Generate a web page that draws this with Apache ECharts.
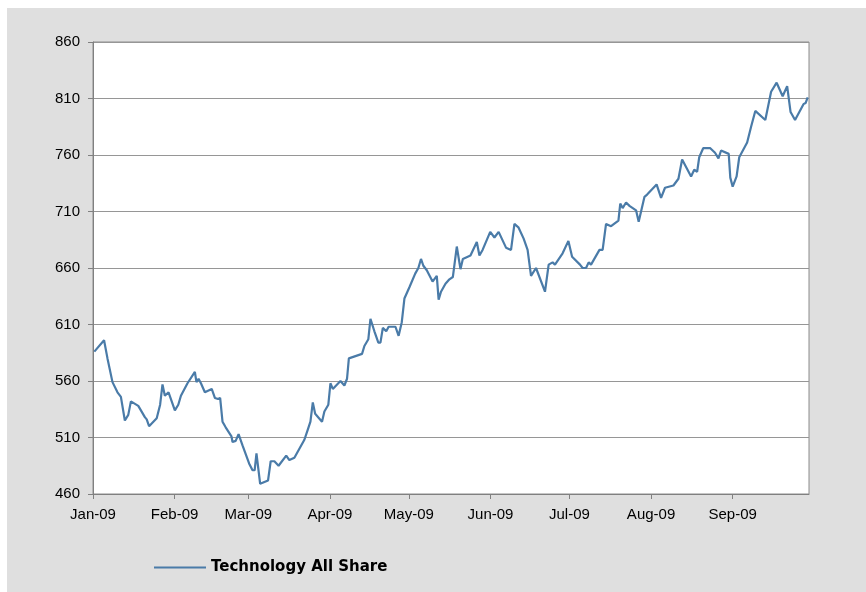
<!DOCTYPE html>
<html>
<head>
<meta charset="utf-8">
<script src="https://cdn.jsdelivr.net/npm/echarts@6/dist/echarts.min.js"></script>
<style>
  html, body { margin: 0; padding: 0; background: #fff; }
  #wrap { position: relative; width: 866px; height: 592px; }
  #panel { position: absolute; left: 7px; top: 8px; width: 859px; height: 584px; background: #dfdfdf; }
  #chart { position: absolute; left: 0; top: 0; width: 866px; height: 592px; }
</style>
</head>
<body>
<div id="wrap">
  <div id="panel"></div>
  <div id="chart"></div>
</div>
<script>
// day of year (0 = 1 Jan 2009) for each point
const tradingDays = [
  0.5, 4.2, 4.9, 5.5, 7.4, 9.3, 10.6, 11.2, 12.1, 13.4, 14.4, 17.2, 19.7, 20.4, 21.3, 24.2, 25.5, 26.4, 27.3, 28.7,
  31.1, 32.4, 33.4, 35.9, 38.7, 39.3, 40.1, 41, 42.5, 45.1, 46.3, 47.5, 48.3, 49.2, 50.4, 52.6, 53, 54.2, 55.3, 56.8,
  59.3, 60.6, 61.4, 62.1, 63.5, 66.5, 67.5, 68.9, 70.5, 73.4, 74.6, 76.5, 78.4, 80.3, 81.6, 82.6, 83.5, 84.4, 87, 87.9,
  89.4, 90.2, 91.1, 94, 95.5, 96.5, 97.2, 102.2, 103.1, 104.6, 105.4, 106.9, 108.4, 109.2, 110.1, 111.4, 112.3, 114.9, 116.1, 117.3,
  118.3, 120.2, 122.4, 123.6, 124.6, 125.5, 126.8, 129, 130.6, 131.3, 132.2, 133.9, 135.4, 136.7, 138.2, 139.6, 140.5, 143.4, 145.8, 146.8,
  148, 150.9, 152.5, 154.1, 156.9, 158.8, 160.1, 161.6, 163.6, 165.1, 166.4, 168.3, 171.7, 173.1, 174.6, 175.5, 178.4, 180.6, 182, 185,
  186, 187.3, 188.3, 189.2, 192.4, 193.6, 194.9, 196.8, 199.6, 200.3, 201.2, 202.5, 203.8, 206.3, 207.3, 209.5, 210.5, 214.1, 215.8, 217.3,
  220.5, 222.4, 223.8, 227.2, 228.4, 229.5, 230.3, 231.8, 234.5, 236.3, 237.6, 238.6, 241.5, 242.1, 243, 244.5, 245.5, 248.5, 250, 251.6,
  255.4, 257.6, 259.7, 262, 263.7, 265, 266.7, 269.9, 270.7, 271.5
]
const indexValues = [
  586, 596, 596, 580, 559, 550, 546, 546, 525, 530, 542, 538, 528, 526, 520, 527, 539, 557, 547, 550,
  534, 539, 547, 558, 568, 559, 562, 558, 550, 553, 545, 544, 545, 524, 519, 511, 506, 507, 513, 503,
  487, 481, 481, 496, 469, 472, 489, 489, 485, 494, 490, 492, 500, 508, 517, 524, 541, 531, 524, 533,
  539, 558, 553, 560, 556, 562, 580, 584, 591, 597, 615, 604, 594, 594, 607, 604, 608, 608, 600, 612,
  633, 643, 655, 660, 668, 662, 658, 648, 653, 632, 639, 646, 650, 652, 679, 659, 668, 671, 683, 671,
  676, 692, 687, 692, 678, 676, 699, 696, 686, 676, 653, 660, 639, 663, 665, 663, 673, 684, 670, 663,
  660, 660, 665, 663, 676, 676, 699, 697, 702, 717, 713, 718, 715, 711, 701, 723, 725, 734, 722, 731,
  733, 739, 756, 741, 747, 745, 758, 766, 766, 762, 757, 764, 761, 740, 732, 741, 758, 771, 785, 799,
  791, 816, 824, 812, 821, 798, 791, 805, 806, 811
]
const monthLabels = ['Jan-09', 'Feb-09', 'Mar-09', 'Apr-09', 'May-09', 'Jun-09', 'Jul-09', 'Aug-09', 'Sep-09', 'Oct-09', 'Nov-09', 'Dec-09']
const seriesName = 'Technology All Share'

const DAY = 86400000
const start = new Date(2009, 0, 1).getTime()
const end = new Date(2009, 8, 30).getTime()
const points = tradingDays.map((d, i) => [start + d * DAY, indexValues[i]])

const labelFont = { color: '#000', fontSize: 15, fontFamily: 'Liberation Sans, Arial, sans-serif' }

const chart = echarts.init(document.getElementById('chart'))
chart.setOption({
  animation: false,
  grid: {
    left: 93,
    right: 57,
    top: 42,
    bottom: 98,
    show: true,
    backgroundColor: '#fff',
    borderColor: '#8c8c8c',
    borderWidth: 1
  },
  legend: {
    left: 154,
    top: 560,
    padding: 0,
    icon: 'rect',
    itemWidth: 52,
    itemHeight: 2,
    textStyle: { color: '#000', fontSize: 15, fontWeight: 'bold', fontFamily: 'DejaVu Sans, sans-serif' },
    data: [seriesName]
  },
  xAxis: {
    type: 'time',
    min: start,
    max: end,
    splitNumber: 9,
    minInterval: 28 * DAY,
    axisLine: { lineStyle: { color: '#808080', width: 1 } },
    axisTick: { show: true, length: 5, lineStyle: { color: '#808080' } },
    splitLine: { show: false },
    axisLabel: Object.assign({
      margin: 13,
      showMaxLabel: false,
      formatter: (value) => monthLabels[new Date(value).getMonth()]
    }, labelFont)
  },
  yAxis: {
    type: 'value',
    min: 460,
    max: 860,
    interval: 50,
    axisLine: { show: true, lineStyle: { color: '#808080', width: 1 } },
    axisTick: { show: true, length: 5, lineStyle: { color: '#808080' } },
    splitLine: { lineStyle: { color: '#969696', width: 1 } },
    axisLabel: Object.assign({ margin: 13 }, labelFont)
  },
  series: [{
    name: seriesName,
    type: 'line',
    data: points,
    symbol: 'none',
    lineStyle: { color: '#4a7ba8', width: 2.2 },
    itemStyle: { color: '#4a7ba8' }
  }]
})
</script>
</body>
</html>
